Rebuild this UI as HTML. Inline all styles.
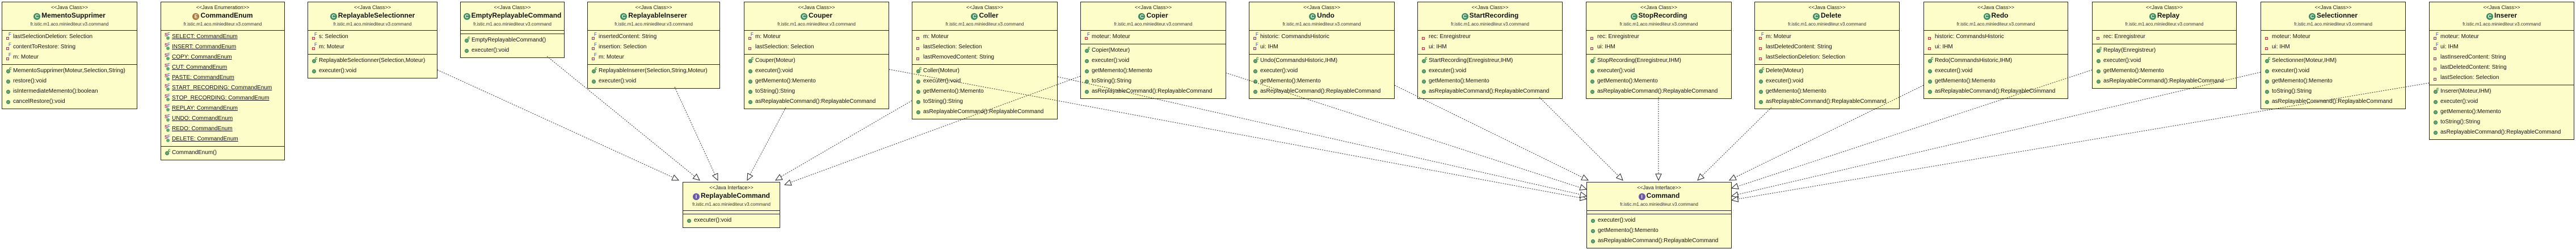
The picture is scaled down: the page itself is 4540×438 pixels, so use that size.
<!DOCTYPE html>
<html><head><meta charset="utf-8">
<style>
*{margin:0;padding:0;box-sizing:border-box}
body{width:4540px;height:438px;background:#fff;position:relative;overflow:hidden;font-family:"Liberation Sans",sans-serif;color:#111}
.b{position:absolute;top:3px;background:#fdfdc9;border:1px solid #222}
.h{height:50px;border-bottom:1px solid #222;text-align:center;white-space:nowrap}
.st{font-size:9px;line-height:12px;padding-top:3px;color:#222}
.nm{font-size:12px;font-weight:bold;line-height:17px;height:17px}
.pk{font-size:8px;line-height:14px;color:#333}
.ic{display:inline-block;width:12px;height:12px;border-radius:50%;color:#fff;font-size:9px;line-height:12px;font-style:normal;text-align:center;vertical-align:-1px;margin-right:2px;font-weight:bold}
.ic.c{background:#3f8f5f}.ic.e{background:#a8763e}.ic.i{background:#6b5aa6}
.s{padding:2px 0 3px 0;border-bottom:1px solid #222}
.s:last-child{border-bottom:none}
.s.e{height:6px;padding:0}
.r{position:relative;height:18px;line-height:18px;padding-left:19px;white-space:nowrap;font-size:10px}
.m{position:absolute;left:7px;top:6px;width:7px;height:7px;border-radius:50%;background:#5fa878;border:1px solid #3e7a55}
.q{position:absolute;left:7px;top:9px;width:5px;height:5px;background:#fbd;border:1px solid #c33}
.f{position:absolute;left:11px;top:-4px;font-size:8px;color:#3344bb;font-weight:normal}
.cc{position:absolute;left:12px;top:-4px;font-size:8px;color:#2a8a3a;font-weight:bold}
.sf{position:absolute;left:6px;top:-3px;font-size:8px;color:#b03070}
.sd{position:absolute;left:9px;top:8px;width:6px;height:6px;border-radius:50%;background:#5fa878}
.u{text-decoration:underline}
svg{position:absolute;left:0;top:0}
</style></head><body>

<div class="b" style="left:3px;width:239px">
<div class="h"><div class="st">&lt;&lt;Java Class&gt;&gt;</div><div class="nm"><i class="ic c">C</i>MementoSupprimer</div><div class="pk">fr.istic.m1.aco.miniediteur.v3.command</div></div>
<div class="s"><div class="r"><i class="q"></i><b class="f">F</b>lastSelectionDeletion: Selection</div><div class="r"><i class="q"></i><b class="f">F</b>contentToRestore: String</div><div class="r"><i class="q"></i><b class="f">F</b>m: Moteur</div></div>
<div class="s"><div class="r"><i class="m"></i><b class="cc">c</b>MementoSupprimer(Moteur,Selection,String)</div><div class="r"><i class="m"></i>restore():void</div><div class="r"><i class="m"></i>isIntermediateMemento():boolean</div><div class="r"><i class="m"></i>cancelRestore():void</div></div>
</div>

<div class="b" style="left:283px;width:219px">
<div class="h"><div class="st">&lt;&lt;Java Enumeration&gt;&gt;</div><div class="nm"><i class="ic e">E</i>CommandEnum</div><div class="pk">fr.istic.m1.aco.miniediteur.v3.command</div></div>
<div class="s">
<div class="r"><b class="sf">S</b><i class="sd"></i><b class="f">F</b><span class="u">SELECT: CommandEnum</span></div>
<div class="r"><b class="sf">S</b><i class="sd"></i><b class="f">F</b><span class="u">INSERT: CommandEnum</span></div>
<div class="r"><b class="sf">S</b><i class="sd"></i><b class="f">F</b><span class="u">COPY: CommandEnum</span></div>
<div class="r"><b class="sf">S</b><i class="sd"></i><b class="f">F</b><span class="u">CUT: CommandEnum</span></div>
<div class="r"><b class="sf">S</b><i class="sd"></i><b class="f">F</b><span class="u">PASTE: CommandEnum</span></div>
<div class="r"><b class="sf">S</b><i class="sd"></i><b class="f">F</b><span class="u">START_RECORDING: CommandEnum</span></div>
<div class="r"><b class="sf">S</b><i class="sd"></i><b class="f">F</b><span class="u">STOP_RECORDING: CommandEnum</span></div>
<div class="r"><b class="sf">S</b><i class="sd"></i><b class="f">F</b><span class="u">REPLAY: CommandEnum</span></div>
<div class="r"><b class="sf">S</b><i class="sd"></i><b class="f">F</b><span class="u">UNDO: CommandEnum</span></div>
<div class="r"><b class="sf">S</b><i class="sd"></i><b class="f">F</b><span class="u">REDO: CommandEnum</span></div>
<div class="r"><b class="sf">S</b><i class="sd"></i><b class="f">F</b><span class="u">DELETE: CommandEnum</span></div>
</div>
<div class="s"><div class="r"><i class="m"></i><b class="cc">c</b>CommandEnum()</div></div>
</div>

<div class="b" style="left:542px;width:229px">
<div class="h"><div class="st">&lt;&lt;Java Class&gt;&gt;</div><div class="nm"><i class="ic c">C</i>ReplayableSelectionner</div><div class="pk">fr.istic.m1.aco.miniediteur.v3.command</div></div>
<div class="s"><div class="r"><i class="q"></i><b class="f">F</b>s: Selection</div><div class="r"><i class="q"></i><b class="f">F</b>m: Moteur</div></div>
<div class="s"><div class="r"><i class="m"></i><b class="cc">c</b>ReplayableSelectionner(Selection,Moteur)</div><div class="r"><i class="m"></i>executer():void</div></div>
</div>

<div class="b" style="left:811px;width:184px">
<div class="h"><div class="st">&lt;&lt;Java Class&gt;&gt;</div><div class="nm"><i class="ic c">C</i>EmptyReplayableCommand</div><div class="pk">fr.istic.m1.aco.miniediteur.v3.command</div></div>
<div class="s e"></div>
<div class="s"><div class="r"><i class="m"></i><b class="cc">c</b>EmptyReplayableCommand()</div><div class="r"><i class="m"></i>executer():void</div></div>
</div>

<div class="b" style="left:1035px;width:234px">
<div class="h"><div class="st">&lt;&lt;Java Class&gt;&gt;</div><div class="nm"><i class="ic c">C</i>ReplayableInserer</div><div class="pk">fr.istic.m1.aco.miniediteur.v3.command</div></div>
<div class="s"><div class="r"><i class="q"></i><b class="f">F</b>insertedContent: String</div><div class="r"><i class="q"></i><b class="f">F</b>insertion: Selection</div><div class="r"><i class="q"></i><b class="f">F</b>m: Moteur</div></div>
<div class="s"><div class="r"><i class="m"></i><b class="cc">c</b>ReplayableInserer(Selection,String,Moteur)</div><div class="r"><i class="m"></i>executer():void</div></div>
</div>

<div class="b" style="left:1311px;width:256px">
<div class="h"><div class="st">&lt;&lt;Java Class&gt;&gt;</div><div class="nm"><i class="ic c">C</i>Couper</div><div class="pk">fr.istic.m1.aco.miniediteur.v3.command</div></div>
<div class="s"><div class="r"><i class="q"></i><b class="f">F</b>m: Moteur</div><div class="r"><i class="q"></i>lastSelection: Selection</div></div>
<div class="s"><div class="r"><i class="m"></i><b class="cc">c</b>Couper(Moteur)</div><div class="r"><i class="m"></i>executer():void</div><div class="r"><i class="m"></i>getMemento():Memento</div><div class="r"><i class="m"></i>toString():String</div><div class="r"><i class="m"></i>asReplayableCommand():ReplayableCommand</div></div>
</div>

<div class="b" style="left:1607px;width:257px">
<div class="h"><div class="st">&lt;&lt;Java Class&gt;&gt;</div><div class="nm"><i class="ic c">C</i>Coller</div><div class="pk">fr.istic.m1.aco.miniediteur.v3.command</div></div>
<div class="s"><div class="r"><i class="q"></i>m: Moteur</div><div class="r"><i class="q"></i>lastSelection: Selection</div><div class="r"><i class="q"></i>lastRemovedContent: String</div></div>
<div class="s"><div class="r"><i class="m"></i><b class="cc">c</b>Coller(Moteur)</div><div class="r"><i class="m"></i>executer():void</div><div class="r"><i class="m"></i>getMemento():Memento</div><div class="r"><i class="m"></i>toString():String</div><div class="r"><i class="m"></i>asReplayableCommand():ReplayableCommand</div></div>
</div>

<div class="b" style="left:1904px;width:257px">
<div class="h"><div class="st">&lt;&lt;Java Class&gt;&gt;</div><div class="nm"><i class="ic c">C</i>Copier</div><div class="pk">fr.istic.m1.aco.miniediteur.v3.command</div></div>
<div class="s"><div class="r"><i class="q"></i><b class="f">F</b>moteur: Moteur</div></div>
<div class="s"><div class="r"><i class="m"></i><b class="cc">c</b>Copier(Moteur)</div><div class="r"><i class="m"></i>executer():void</div><div class="r"><i class="m"></i>getMemento():Memento</div><div class="r"><i class="m"></i>toString():String</div><div class="r"><i class="m"></i>asReplayableCommand():ReplayableCommand</div></div>
</div>

<div class="b" style="left:2201px;width:257px">
<div class="h"><div class="st">&lt;&lt;Java Class&gt;&gt;</div><div class="nm"><i class="ic c">C</i>Undo</div><div class="pk">fr.istic.m1.aco.miniediteur.v3.command</div></div>
<div class="s"><div class="r"><i class="q"></i><b class="f">F</b>historic: CommandsHistoric</div><div class="r"><i class="q"></i><b class="f">F</b>ui: IHM</div></div>
<div class="s"><div class="r"><i class="m"></i><b class="cc">c</b>Undo(CommandsHistoric,IHM)</div><div class="r"><i class="m"></i>executer():void</div><div class="r"><i class="m"></i>getMemento():Memento</div><div class="r"><i class="m"></i>asReplayableCommand():ReplayableCommand</div></div>
</div>

<div class="b" style="left:2498px;width:256px">
<div class="h"><div class="st">&lt;&lt;Java Class&gt;&gt;</div><div class="nm"><i class="ic c">C</i>StartRecording</div><div class="pk">fr.istic.m1.aco.miniediteur.v3.command</div></div>
<div class="s"><div class="r"><i class="q"></i>rec: Enregistreur</div><div class="r"><i class="q"></i>ui: IHM</div></div>
<div class="s"><div class="r"><i class="m"></i><b class="cc">c</b>StartRecording(Enregistreur,IHM)</div><div class="r"><i class="m"></i>executer():void</div><div class="r"><i class="m"></i>getMemento():Memento</div><div class="r"><i class="m"></i>asReplayableCommand():ReplayableCommand</div></div>
</div>

<div class="b" style="left:2795px;width:257px">
<div class="h"><div class="st">&lt;&lt;Java Class&gt;&gt;</div><div class="nm"><i class="ic c">C</i>StopRecording</div><div class="pk">fr.istic.m1.aco.miniediteur.v3.command</div></div>
<div class="s"><div class="r"><i class="q"></i>rec: Enregistreur</div><div class="r"><i class="q"></i>ui: IHM</div></div>
<div class="s"><div class="r"><i class="m"></i><b class="cc">c</b>StopRecording(Enregistreur,IHM)</div><div class="r"><i class="m"></i>executer():void</div><div class="r"><i class="m"></i>getMemento():Memento</div><div class="r"><i class="m"></i>asReplayableCommand():ReplayableCommand</div></div>
</div>

<div class="b" style="left:3092px;width:256px">
<div class="h"><div class="st">&lt;&lt;Java Class&gt;&gt;</div><div class="nm"><i class="ic c">C</i>Delete</div><div class="pk">fr.istic.m1.aco.miniediteur.v3.command</div></div>
<div class="s"><div class="r"><i class="q"></i><b class="f">F</b>m: Moteur</div><div class="r"><i class="q"></i>lastDeletedContent: String</div><div class="r"><i class="q"></i>lastSelectionDeletion: Selection</div></div>
<div class="s"><div class="r"><i class="m"></i><b class="cc">c</b>Delete(Moteur)</div><div class="r"><i class="m"></i>executer():void</div><div class="r"><i class="m"></i>getMemento():Memento</div><div class="r"><i class="m"></i>asReplayableCommand():ReplayableCommand</div></div>
</div>

<div class="b" style="left:3390px;width:255px">
<div class="h"><div class="st">&lt;&lt;Java Class&gt;&gt;</div><div class="nm"><i class="ic c">C</i>Redo</div><div class="pk">fr.istic.m1.aco.miniediteur.v3.command</div></div>
<div class="s"><div class="r"><i class="q"></i>historic: CommandsHistoric</div><div class="r"><i class="q"></i>ui: IHM</div></div>
<div class="s"><div class="r"><i class="m"></i><b class="cc">c</b>Redo(CommandsHistoric,IHM)</div><div class="r"><i class="m"></i>executer():void</div><div class="r"><i class="m"></i>getMemento():Memento</div><div class="r"><i class="m"></i>asReplayableCommand():ReplayableCommand</div></div>
</div>

<div class="b" style="left:3687px;width:255px">
<div class="h"><div class="st">&lt;&lt;Java Class&gt;&gt;</div><div class="nm"><i class="ic c">C</i>Replay</div><div class="pk">fr.istic.m1.aco.miniediteur.v3.command</div></div>
<div class="s"><div class="r"><i class="q"></i>rec: Enregistreur</div></div>
<div class="s"><div class="r"><i class="m"></i><b class="cc">c</b>Replay(Enregistreur)</div><div class="r"><i class="m"></i>executer():void</div><div class="r"><i class="m"></i>getMemento():Memento</div><div class="r"><i class="m"></i>asReplayableCommand():ReplayableCommand</div></div>
</div>

<div class="b" style="left:3984px;width:256px">
<div class="h"><div class="st">&lt;&lt;Java Class&gt;&gt;</div><div class="nm"><i class="ic c">C</i>Selectionner</div><div class="pk">fr.istic.m1.aco.miniediteur.v3.command</div></div>
<div class="s"><div class="r"><i class="q"></i>moteur: Moteur</div><div class="r"><i class="q"></i>ui: IHM</div></div>
<div class="s"><div class="r"><i class="m"></i><b class="cc">c</b>Selectionner(Moteur,IHM)</div><div class="r"><i class="m"></i>executer():void</div><div class="r"><i class="m"></i>getMemento():Memento</div><div class="r"><i class="m"></i>toString():String</div><div class="r"><i class="m"></i>asReplayableCommand():ReplayableCommand</div></div>
</div>

<div class="b" style="left:4281px;width:256px">
<div class="h"><div class="st">&lt;&lt;Java Class&gt;&gt;</div><div class="nm"><i class="ic c">C</i>Inserer</div><div class="pk">fr.istic.m1.aco.miniediteur.v3.command</div></div>
<div class="s"><div class="r"><i class="q"></i><b class="f">F</b>moteur: Moteur</div><div class="r"><i class="q"></i><b class="f">F</b>ui: IHM</div><div class="r"><i class="q"></i>lastInseredContent: String</div><div class="r"><i class="q"></i>lastDeletedContent: String</div><div class="r"><i class="q"></i>lastSelection: Selection</div></div>
<div class="s"><div class="r"><i class="m"></i><b class="cc">c</b>Inserer(Moteur,IHM)</div><div class="r"><i class="m"></i>executer():void</div><div class="r"><i class="m"></i>getMemento():Memento</div><div class="r"><i class="m"></i>toString():String</div><div class="r"><i class="m"></i>asReplayableCommand():ReplayableCommand</div></div>
</div>

<div class="b" style="left:1203px;top:320px;width:172px">
<div class="h"><div class="st">&lt;&lt;Java Interface&gt;&gt;</div><div class="nm"><i class="ic i">I</i>ReplayableCommand</div><div class="pk">fr.istic.m1.aco.miniediteur.v3.command</div></div>
<div class="s e"></div>
<div class="s"><div class="r"><i class="m"></i>executer():void</div></div>
</div>

<div class="b" style="left:2796px;top:320px;width:256px">
<div class="h"><div class="st">&lt;&lt;Java Interface&gt;&gt;</div><div class="nm"><i class="ic i">I</i>Command</div><div class="pk">fr.istic.m1.aco.miniediteur.v3.command</div></div>
<div class="s e"></div>
<div class="s"><div class="r"><i class="m"></i>executer():void</div><div class="r"><i class="m"></i>getMemento():Memento</div><div class="r"><i class="m"></i>asReplayableCommand():ReplayableCommand</div></div>
</div>

<svg width="4540" height="438" viewBox="0 0 4540 438">
<g stroke="#333" stroke-width="1" stroke-dasharray="2,2" fill="none">
<line x1="771" y1="123" x2="1186" y2="312"/>
<line x1="964" y1="99" x2="1224" y2="310"/>
<line x1="1189" y1="153" x2="1260" y2="307"/>
<line x1="1385" y1="189" x2="1322" y2="307"/>
<line x1="1607" y1="177" x2="1376" y2="311"/>
<line x1="1904" y1="134" x2="1393" y2="321"/>
<line x1="1567" y1="122" x2="2785" y2="348"/>
<line x1="1864" y1="135" x2="2785" y2="342"/>
<line x1="2160" y1="128" x2="2785" y2="330"/>
<line x1="2458" y1="150" x2="2789" y2="312"/>
<line x1="2713" y1="171" x2="2852" y2="309"/>
<line x1="2923" y1="171" x2="2923" y2="306"/>
<line x1="3122" y1="189" x2="3000" y2="309"/>
<line x1="3390" y1="150" x2="3058" y2="312"/>
<line x1="3687" y1="123" x2="3062" y2="328"/>
<line x1="3984" y1="127" x2="3063" y2="342"/>
<line x1="4281" y1="146" x2="3063" y2="350"/>
</g>
<g stroke="#222" stroke-width="1" fill="#fff">
<polygon points="1196,317 1183.9,317 1188.1,307.9"/>
<polygon points="1233,317 1221.3,314 1227.6,306.2"/>
<polygon points="1265,317 1255.8,309.1 1264.9,304.9"/>
<polygon points="1317,317 1317.7,304.9 1326.6,309.6"/>
<polygon points="1367,317 1374,307.1 1379,315.8"/>
<polygon points="1383,325 1391.6,316.5 1395,325.9"/>
<polygon points="2796,350 2784.3,352.9 2786.1,343.1"/>
<polygon points="2796,345 2784.2,347.5 2786.4,337.7"/>
<polygon points="2796,333 2784,334.4 2787,324.8"/>
<polygon points="2799,317 2786.9,316.7 2791.3,307.7"/>
<polygon points="2860,317 2848.7,312.8 2855.7,305.7"/>
<polygon points="2923,317 2918,306 2928,306"/>
<polygon points="2992,317 2996.3,305.7 3003.3,312.9"/>
<polygon points="3048,317 3055.7,307.7 3060.1,316.7"/>
<polygon points="3052,331 3060.9,322.8 3064.1,332.4"/>
<polygon points="3052,345 3061.6,337.6 3063.8,347.4"/>
<polygon points="3052,352 3062,345.3 3063.6,355.1"/>
</g>
</svg>
</body></html>
